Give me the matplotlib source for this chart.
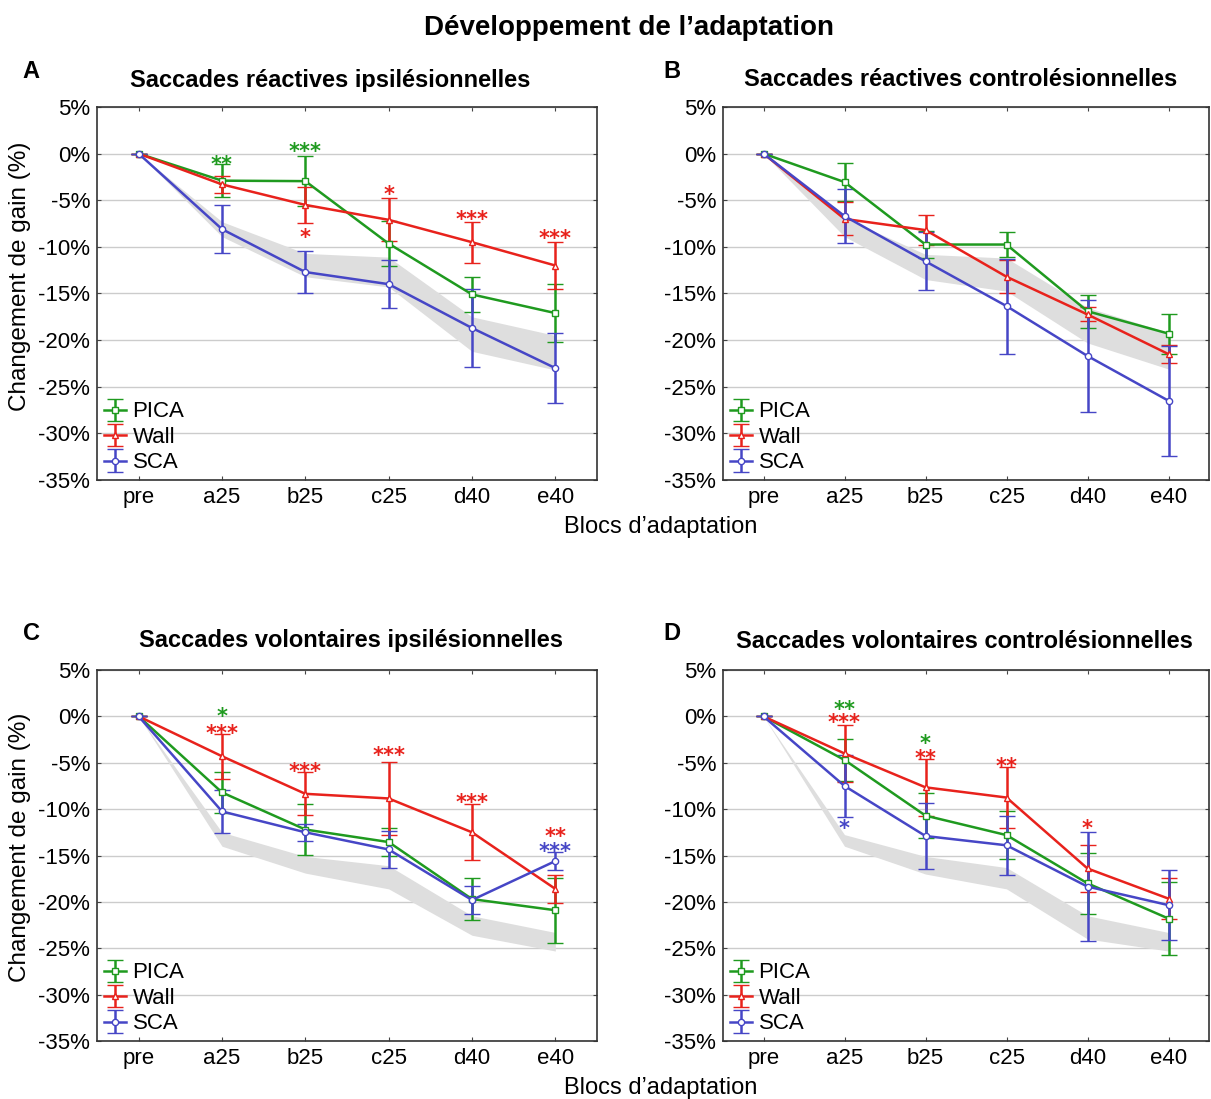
import matplotlib
matplotlib.use("Agg")
import matplotlib.pyplot as plt

plt.rcParams['font.family'] = ['Liberation Sans', 'DejaVu Sans']
plt.rcParams['axes.unicode_minus'] = False

blocks = ["pre", "a25", "b25", "c25", "d40", "e40"]
groups = ["PICA", "Wall", "SCA"]
colors = {"PICA": "#1f9a1f", "Wall": "#e8221c", "SCA": "#4646c6"}
markers = {"PICA": "s", "Wall": "^", "SCA": "o"}

# panel A : reactive ipsilesional
pica_a = [0, -2.9, -2.95, -9.65, -15.1, -17.1]
pica_a_err = [0, 1.75, 2.65, 2.45, 1.9, 3.1]
wall_a = [0, -3.3, -5.5, -7.1, -9.5, -12.0]
wall_a_err = [0, 0.9, 1.95, 2.3, 2.2, 2.55]
sca_a = [0, -8.1, -12.7, -14.0, -18.7, -23.0]
sca_a_err = [0, 2.55, 2.3, 2.6, 4.2, 3.75]
band_a_hi = [0, -7.3, -10.7, -11.1, -17.5, -19.5]
band_a_lo = [0, -8.9, -13.2, -14.3, -21.2, -23.2]

# panel B : reactive contralesional
pica_b = [0, -3.05, -9.75, -9.75, -16.9, -19.3]
pica_b_err = [0, 2.0, 1.4, 1.3, 1.75, 2.15]
wall_b = [0, -7.0, -8.2, -13.2, -17.25, -21.5]
wall_b_err = [0, 1.78, 1.65, 1.75, 0.75, 0.95]
sca_b = [0, -6.7, -11.55, -16.35, -21.7, -26.5]
sca_b_err = [0, 2.9, 3.1, 5.1, 6.0, 5.9]
band_b_hi = [0, -6.9, -10.8, -11.2, -16.5, -19.2]
band_b_lo = [0, -8.9, -13.5, -14.75, -20.3, -23.1]

# panel C : voluntary ipsilesional
pica_c = [0, -8.2, -12.2, -13.55, -19.7, -20.9]
pica_c_err = [0, 2.2, 2.75, 1.5, 2.25, 3.5]
wall_c = [0, -4.3, -8.35, -8.85, -12.5, -18.6]
wall_c_err = [0, 2.4, 2.3, 3.95, 3.0, 1.55]
sca_c = [0, -10.25, -12.5, -14.35, -19.8, -15.6]
sca_c_err = [0, 2.3, 0.9, 1.95, 1.5, 1.0]
band_c_hi = [0, -12.5, -15.1, -16.1, -21.5, -23.3]
band_c_lo = [0, -14.0, -16.9, -18.6, -23.6, -25.3]

# panel D : voluntary contralesional
pica_d = [0, -4.7, -10.7, -12.8, -18.0, -21.8]
pica_d_err = [0, 2.3, 2.4, 2.6, 3.3, 3.9]
wall_d = [0, -4.0, -7.65, -8.75, -16.4, -19.65]
wall_d_err = [0, 3.1, 3.05, 3.3, 2.5, 2.2]
sca_d = [0, -7.5, -12.9, -13.9, -18.35, -20.35]
sca_d_err = [0, 3.3, 3.55, 3.2, 5.9, 3.8]
band_d_hi = [0, -12.75, -15.1, -16.3, -21.5, -23.3]
band_d_lo = [0, -14.0, -17.0, -18.6, -24.0, -25.3]

# significance stars: (block index, y of star centre, text, group)
stars_a = [(1, -0.55, "**", "PICA"), (2, 0.8, "***", "PICA"), (2, -8.4, "*", "Wall"),
           (3, -3.8, "*", "Wall"), (4, -6.5, "***", "Wall"), (5, -8.5, "***", "Wall")]
stars_b = []
stars_c = [(1, 0.6, "*", "PICA"), (1, -1.25, "***", "Wall"), (2, -5.35, "***", "Wall"),
           (3, -3.65, "***", "Wall"), (4, -8.75, "***", "Wall"), (5, -12.4, "**", "Wall"),
           (5, -14.0, "***", "SCA")]
stars_d = [(1, 1.35, "**", "PICA"), (1, -0.05, "***", "Wall"), (1, -11.5, "*", "SCA"),
           (2, -2.4, "*", "PICA"), (2, -4.0, "**", "Wall"), (3, -4.8, "**", "Wall"),
           (4, -11.5, "*", "Wall")]

titles = ["Saccades réactives ipsilésionnelles", "Saccades réactives controlésionnelles",
          "Saccades volontaires ipsilésionnelles", "Saccades volontaires controlésionnelles"]
letters = ["A", "B", "C", "D"]

panels = [
    ({"PICA": (pica_a, pica_a_err), "Wall": (wall_a, wall_a_err), "SCA": (sca_a, sca_a_err)}, band_a_hi, band_a_lo, stars_a),
    ({"PICA": (pica_b, pica_b_err), "Wall": (wall_b, wall_b_err), "SCA": (sca_b, sca_b_err)}, band_b_hi, band_b_lo, stars_b),
    ({"PICA": (pica_c, pica_c_err), "Wall": (wall_c, wall_c_err), "SCA": (sca_c, sca_c_err)}, band_c_hi, band_c_lo, stars_c),
    ({"PICA": (pica_d, pica_d_err), "Wall": (wall_d, wall_d_err), "SCA": (sca_d, sca_d_err)}, band_d_hi, band_d_lo, stars_d),
]

W, H = 1211, 1099
fig = plt.figure(figsize=(W / 100, H / 100), dpi=100)

# axes boxes in pixels: left, top, right, bottom
boxes = [(97, 107, 597, 480), (723, 107, 1209, 480), (97, 670, 597, 1041), (723, 670, 1209, 1041)]
letter_pos = [(31, 71), (672, 71), (31, 633), (672, 633)]
title_pos = [(330, 80), (961, 80), (351, 641), (964, 641)]

x = list(range(len(blocks)))
for i, (series, bhi, blo, stars) in enumerate(panels):
    l, t, r, b = boxes[i]
    ax = fig.add_axes([l / W, 1 - b / H, (r - l) / W, (b - t) / H])
    ax.fill_between(x, bhi, blo, color="#dedede", lw=0, zorder=1)
    for g in groups:
        vals, err = series[g]
        ax.errorbar(x, vals, yerr=err, color=colors[g], lw=1.8, elinewidth=1.8,
                    capsize=6, capthick=1.8, marker=markers[g], ms=4.5,
                    mfc="white", mec=colors[g], mew=1, label=g, zorder=3)
    for xi, yc, s, g in stars:
        ax.annotate(s, (xi, yc), xytext=(0, -8.5), textcoords="offset points",
                    ha="center", va="baseline", fontsize=15, fontweight="bold",
                    color=colors[g], family="DejaVu Sans", zorder=4)
    ax.set_xlim(-0.5, 5.5)
    ax.set_ylim(-35, 5)
    ax.set_yticks(range(-35, 6, 5))
    ax.set_yticklabels([f"{v}%" for v in range(-35, 6, 5)])
    ax.set_xticks(x)
    ax.set_xticklabels(blocks)
    ax.grid(axis="y", color="#cccccc", lw=1, zorder=0)
    ax.set_axisbelow(True)
    ax.tick_params(direction="in", length=3, top=True, right=True, labelsize=16, pad=5,
                   color="#444444")
    for sp in ax.spines.values():
        sp.set_color("#333333")
        sp.set_linewidth(1.2)
    ax.legend(loc="lower left", frameon=False, fontsize=16, handlelength=1.0,
              handletextpad=0.3, labelspacing=0.2, borderaxespad=0.1, borderpad=0.2)
    tx, ty = title_pos[i]
    fig.text(tx / W, 1 - ty / H, titles[i], fontsize=17, fontweight="bold",
             ha="center", va="center")
    lx, ly = letter_pos[i]
    fig.text(lx / W, 1 - ly / H, letters[i], fontsize=17, fontweight="bold",
             ha="center", va="center")

fig.text(629 / W, 1 - 28 / H, "Développement de l’adaptation", fontsize=20,
         fontweight="bold", ha="center", va="center")
for yl in (276, 847):
    fig.text(20 / W, 1 - yl / H, "Changement de gain (%)", fontsize=17.5,
             rotation=90, ha="center", va="center")
for yx in (527, 1088):
    fig.text(661 / W, 1 - yx / H, "Blocs d’adaptation", fontsize=17,
             ha="center", va="center")

fig.savefig("out.png", dpi=100)
